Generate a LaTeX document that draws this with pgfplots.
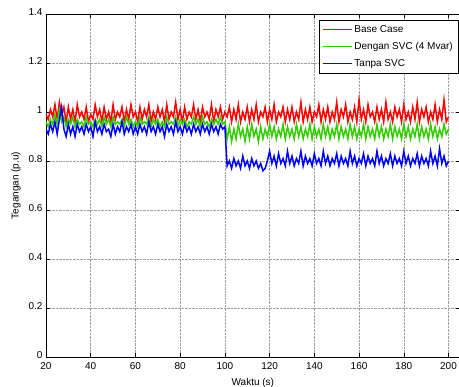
\documentclass[border=0pt]{standalone}
\usepackage{fontspec}
\setmainfont{Liberation Sans}
\usepackage{pgfplots}
\usepackage{pgfplotstable}
\pgfplotsset{compat=1.18}
\definecolor{mred}{rgb}{1,0,0}
\definecolor{mgreen}{rgb}{0.2,0.8,0}
\definecolor{mblue}{rgb}{0,0,1}
\pgfplotstableread{
x r g b
20 0.99 0.96 0.93
21 0.97 0.94 0.91
22 1.01 0.97 0.95
23 0.98 0.95 0.92
24 1.03 0.99 0.96
25 0.97 0.95 0.91
26 1.04 1.01 0.97
27 0.99 0.96 1.02
28 1.02 0.98 0.93
29 0.96 0.94 0.90
30 1.02 0.97 0.95
31 0.97 0.95 0.91
32 1.01 0.98 0.94
33 0.96 0.94 0.90
34 1.03 0.97 0.95
35 0.98 0.95 0.92
36 1.00 0.96 0.94
37 0.97 0.94 0.91
38 1.02 0.98 0.95
39 0.96 0.95 0.92
40 0.99 0.96 0.94
41 0.97 0.94 0.90
42 1.03 0.97 0.96
43 0.98 0.95 0.92
44 1.01 0.97 0.94
45 0.96 0.94 0.91
46 1.02 0.98 0.95
47 0.97 0.95 0.92
48 1.00 0.97 0.93
49 0.96 0.94 0.90
50 1.03 0.98 0.95
51 0.97 0.95 0.91
52 1.00 0.96 0.94
53 0.98 0.95 0.92
54 1.02 0.97 0.96
55 0.96 0.94 0.91
56 1.01 0.98 0.94
57 0.97 0.95 0.92
58 1.03 0.97 0.95
59 0.98 0.94 0.91
60 1.00 0.96 0.94
61 0.96 0.94 0.91
62 1.02 0.98 0.95
63 0.97 0.95 0.92
64 1.01 0.96 0.94
65 0.98 0.95 0.91
66 1.03 0.98 0.96
67 0.96 0.94 0.92
68 1.00 0.97 0.94
69 0.97 0.95 0.91
70 1.02 0.97 0.95
71 0.98 0.94 0.92
72 1.01 0.96 0.94
73 0.96 0.94 0.90
74 1.03 0.98 0.95
75 0.97 0.95 0.92
76 1.00 0.96 0.94
77 0.98 0.95 0.91
78 1.04 0.98 0.96
79 0.97 0.94 0.92
80 1.01 0.97 0.94
81 0.96 0.95 0.91
82 1.02 0.97 0.95
83 0.97 0.94 0.92
84 1.00 0.96 0.94
85 0.98 0.95 0.91
86 1.03 0.98 0.95
87 0.97 0.95 0.92
88 1.01 0.97 0.94
89 0.96 0.94 0.91
90 1.02 0.98 0.95
91 0.98 0.95 0.92
92 1.00 0.96 0.94
93 0.97 0.94 0.91
94 1.03 0.97 0.95
95 0.96 0.95 0.92
96 1.01 0.97 0.94
97 0.98 0.95 0.91
98 1.02 0.98 0.95
99 0.97 0.95 0.93
100 1.00 0.96 0.94
101 0.98 0.89 0.78
102 1.02 0.94 0.80
103 0.96 0.88 0.77
104 1.01 0.93 0.81
105 0.97 0.89 0.78
106 1.03 0.95 0.80
107 0.96 0.90 0.77
108 1.00 0.93 0.82
109 0.97 0.88 0.78
110 1.02 0.94 0.80
111 0.96 0.89 0.77
112 1.01 0.95 0.81
113 0.97 0.90 0.78
114 1.03 0.93 0.80
115 0.96 0.88 0.77
116 1.00 0.94 0.79
117 0.98 0.89 0.76
118 1.02 0.93 0.77
119 0.96 0.90 0.80
120 1.01 0.95 0.84
121 0.97 0.90 0.79
122 1.03 0.94 0.82
123 0.96 0.89 0.78
124 1.00 0.93 0.83
125 0.98 0.90 0.79
126 1.02 0.95 0.81
127 0.96 0.89 0.78
128 1.01 0.94 0.84
129 0.97 0.90 0.79
130 1.02 0.93 0.82
131 0.96 0.89 0.78
132 1.00 0.95 0.81
133 0.97 0.90 0.79
134 1.04 0.94 0.84
135 0.96 0.89 0.78
136 1.01 0.93 0.82
137 0.97 0.90 0.79
138 1.02 0.95 0.81
139 0.96 0.89 0.78
140 1.00 0.94 0.83
141 0.98 0.90 0.79
142 1.03 0.93 0.81
143 0.96 0.89 0.78
144 1.01 0.95 0.84
145 0.97 0.90 0.79
146 1.02 0.94 0.82
147 0.96 0.89 0.78
148 1.00 0.93 0.81
149 0.97 0.90 0.79
150 1.04 0.95 0.83
151 0.96 0.89 0.78
152 1.01 0.94 0.82
153 0.98 0.90 0.79
154 1.03 0.93 0.81
155 0.96 0.89 0.78
156 1.00 0.95 0.84
157 0.97 0.90 0.79
158 1.02 0.94 0.82
159 0.96 0.89 0.78
160 1.05 0.93 0.81
161 0.97 0.90 0.79
162 1.01 0.95 0.83
163 0.96 0.89 0.78
164 1.03 0.94 0.82
165 0.98 0.90 0.79
166 1.00 0.93 0.81
167 0.96 0.89 0.78
168 1.02 0.95 0.84
169 0.97 0.90 0.79
170 1.01 0.94 0.82
171 0.96 0.89 0.78
172 1.04 0.93 0.81
173 0.97 0.90 0.79
174 1.00 0.95 0.83
175 0.96 0.89 0.78
176 1.02 0.94 0.82
177 0.98 0.90 0.79
178 1.01 0.93 0.81
179 0.96 0.89 0.78
180 1.03 0.95 0.84
181 0.97 0.90 0.79
182 1.00 0.94 0.82
183 0.96 0.89 0.78
184 1.02 0.93 0.81
185 0.97 0.90 0.79
186 1.04 0.95 0.83
187 0.96 0.89 0.78
188 1.01 0.94 0.82
189 0.98 0.90 0.79
190 1.02 0.93 0.81
191 0.96 0.89 0.78
192 1.00 0.95 0.84
193 0.97 0.90 0.79
194 1.03 0.94 0.82
195 0.96 0.89 0.78
196 1.01 0.93 0.85
197 0.97 0.90 0.79
198 1.05 0.95 0.82
199 0.96 0.91 0.78
200 0.98 0.93 0.80
}\data
\begin{document}
\begin{tikzpicture}
\begin{axis}[
  name=ax,
  scale only axis,
  width=413.7pt, height=343pt,
  xmin=20, xmax=205, ymin=0, ymax=1.4,
  xtick={20,40,60,80,100,120,140,160,180,200},
  ytick={0,0.2,0.4,0.6,0.8,1,1.2,1.4},
  grid=major,
  grid style={densely dotted, gray!75, line width=0.5pt},
  tick align=inside,
  major tick length=4pt,
  tick style={black, line width=0.5pt},
  axis line style={black, line width=0.8pt},
  font=\fontsize{10}{12}\selectfont,
  /pgf/number format/assume math mode=true,
  /pgf/number format/fixed,
  xticklabel style={yshift=-1.5pt},
  yticklabel style={yshift=1.5pt},
  xlabel={Waktu (s)},
  ylabel={Tegangan (p.u)},
  xlabel style={yshift=-2pt},
  ylabel style={yshift=1pt},
  legend cell align=left,
  legend style={at={(0.9959,0.9825)}, anchor=north east,
    font=\fontsize{10}{12}\selectfont, inner xsep=3pt, inner ysep=3pt, row sep=4.5pt},
  legend image code/.code={\draw[mark repeat=2,mark phase=2,#1] plot coordinates {(0pt,0pt) (14.5pt,0pt) (29pt,0pt)};},
]
\addplot[mred, line width=1.5pt] table[x=x, y=r] {\data};
\addlegendentry{Base Case}
\addplot[mgreen, line width=1.5pt] table[x=x, y=g] {\data};
\addlegendentry{Dengan SVC (4 Mvar)}
\addplot[mblue, line width=1.5pt] table[x=x, y=b] {\data};
\addlegendentry{Tanpa SVC}
\end{axis}
\pgfresetboundingbox
\path[use as bounding box] ([shift={(-46pt,-30pt)}]ax.south west) rectangle ([shift={(413pt,357pt)}]ax.south west);
\end{tikzpicture}
\end{document}
